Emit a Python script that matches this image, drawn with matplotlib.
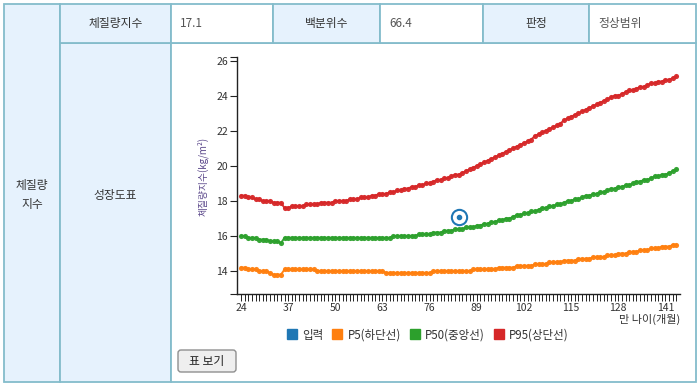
import matplotlib
matplotlib.use('Agg')
import matplotlib.pyplot as plt
from matplotlib.patches import Rectangle, FancyBboxPatch
from matplotlib.lines import Line2D

plt.rcParams['font.family'] = ['Noto Sans CJK KR', 'DejaVu Sans']

# ---- data ----
months = list(range(24, 145))
x_tick_labels = [24, 37, 50, 63, 76, 89, 102, 115, 128, 141]
y_ticks = [14, 16, 18, 20, 22, 24, 26]

p5 = [14.2, 14.2, 14.1, 14.1, 14.1, 14.0, 14.0, 14.0, 13.9, 13.8,
      13.8, 13.8, 14.1, 14.1, 14.1, 14.1, 14.1, 14.1, 14.1, 14.1,
      14.1, 14.0, 14.0, 14.0, 14.0, 14.0, 14.0, 14.0, 14.0, 14.0,
      14.0, 14.0, 14.0, 14.0, 14.0, 14.0, 14.0, 14.0, 14.0, 14.0,
      13.9, 13.9, 13.9, 13.9, 13.9, 13.9, 13.9, 13.9, 13.9, 13.9,
      13.9, 13.9, 13.9, 14.0, 14.0, 14.0, 14.0, 14.0, 14.0, 14.0,
      14.0, 14.0, 14.0, 14.0, 14.1, 14.1, 14.1, 14.1, 14.1, 14.1,
      14.1, 14.2, 14.2, 14.2, 14.2, 14.2, 14.3, 14.3, 14.3, 14.3,
      14.3, 14.4, 14.4, 14.4, 14.4, 14.5, 14.5, 14.5, 14.5, 14.6,
      14.6, 14.6, 14.6, 14.7, 14.7, 14.7, 14.7, 14.8, 14.8, 14.8,
      14.8, 14.9, 14.9, 14.9, 15.0, 15.0, 15.0, 15.1, 15.1, 15.1,
      15.2, 15.2, 15.2, 15.3, 15.3, 15.3, 15.4, 15.4, 15.4, 15.5,
      15.5]

p50 = [16.0, 16.0, 15.9, 15.9, 15.9, 15.8, 15.8, 15.8, 15.7, 15.7,
       15.7, 15.6, 15.9, 15.9, 15.9, 15.9, 15.9, 15.9, 15.9, 15.9,
       15.9, 15.9, 15.9, 15.9, 15.9, 15.9, 15.9, 15.9, 15.9, 15.9,
       15.9, 15.9, 15.9, 15.9, 15.9, 15.9, 15.9, 15.9, 15.9, 15.9,
       15.9, 15.9, 16.0, 16.0, 16.0, 16.0, 16.0, 16.0, 16.0, 16.1,
       16.1, 16.1, 16.1, 16.2, 16.2, 16.2, 16.3, 16.3, 16.3, 16.4,
       16.4, 16.4, 16.5, 16.5, 16.5, 16.6, 16.6, 16.7, 16.7, 16.8,
       16.8, 16.9, 16.9, 17.0, 17.0, 17.1, 17.2, 17.2, 17.3, 17.3,
       17.4, 17.4, 17.5, 17.6, 17.6, 17.7, 17.7, 17.8, 17.8, 17.9,
       18.0, 18.0, 18.1, 18.1, 18.2, 18.3, 18.3, 18.4, 18.4, 18.5,
       18.5, 18.6, 18.7, 18.7, 18.8, 18.8, 18.9, 18.9, 19.0, 19.1,
       19.1, 19.2, 19.2, 19.3, 19.4, 19.4, 19.5, 19.5, 19.6, 19.7,
       19.8]

p95 = [18.3, 18.3, 18.2, 18.2, 18.1, 18.1, 18.0, 18.0, 18.0, 17.9,
       17.9, 17.9, 17.6, 17.6, 17.7, 17.7, 17.7, 17.7, 17.8, 17.8,
       17.8, 17.8, 17.9, 17.9, 17.9, 17.9, 18.0, 18.0, 18.0, 18.0,
       18.1, 18.1, 18.1, 18.2, 18.2, 18.2, 18.3, 18.3, 18.4, 18.4,
       18.4, 18.5, 18.5, 18.6, 18.6, 18.7, 18.7, 18.8, 18.8, 18.9,
       18.9, 19.0, 19.0, 19.1, 19.2, 19.2, 19.3, 19.3, 19.4, 19.5,
       19.5, 19.6, 19.7, 19.8, 19.9, 20.0, 20.1, 20.2, 20.3, 20.4,
       20.5, 20.6, 20.7, 20.8, 20.9, 21.0, 21.1, 21.2, 21.3, 21.4,
       21.5, 21.7, 21.8, 21.9, 22.0, 22.1, 22.2, 22.3, 22.4, 22.6,
       22.7, 22.8, 22.9, 23.0, 23.1, 23.2, 23.3, 23.4, 23.5, 23.6,
       23.7, 23.8, 23.9, 24.0, 24.0, 24.1, 24.2, 24.3, 24.3, 24.4,
       24.5, 24.5, 24.6, 24.7, 24.7, 24.8, 24.8, 24.9, 24.9, 25.0,
       25.1]

input_month = [84]
input_bmi = [17.1]

series_names = ['입력', 'P5(하단선)', 'P50(중앙선)', 'P95(상단선)']
series_colors = ['#1f77b4', '#ff7f0e', '#2ca02c', '#d62728']

header_cells = ['체질량지수', '17.1', '백분위수', '66.4', '판정', '정상범위']

# ---- figure and table background ----
fig = plt.figure(figsize=(7, 3.87), dpi=100)
bg = fig.add_axes([0, 0, 1, 1])
bg.set_xlim(0, 700)
bg.set_ylim(387, 0)
bg.axis('off')

border = '#84bccb'
blue = '#e6f2fd'
head_c = '#333333'
val_c = '#555555'

def cell(x0, y0, x1, y1, fc):
    bg.add_patch(Rectangle((x0, y0), x1 - x0, y1 - y0, facecolor=fc,
                           edgecolor=border, lw=1.3))

# left column + row label column
cell(4, 4, 60, 382, blue)
cell(60, 43, 171, 382, blue)
cell(171, 43, 696, 382, 'white')
bg.text(32, 195, '체질량\n지수', ha='center', va='center', fontsize=8.5,
        color=head_c, linespacing=1.6)
bg.text(115, 195, '성장도표', ha='center', va='center', fontsize=8.5,
        color=head_c)

# header row
col_edges = [60, 171, 273, 380, 483, 589, 696]
for i, txt in enumerate(header_cells):
    x0, x1 = col_edges[i], col_edges[i + 1]
    if i % 2 == 0:
        cell(x0, 4, x1, 43, blue)
        bg.text((x0 + x1) / 2, 23.5, txt, ha='center', va='center',
                fontsize=8.5, color=head_c)
    else:
        cell(x0, 4, x1, 43, 'white')
        bg.text(x0 + 9, 23.5, txt, ha='left', va='center',
                fontsize=8.5, color=val_c)

# button
bg.add_patch(FancyBboxPatch((178, 350), 58, 22,
                            boxstyle='round,pad=0,rounding_size=3',
                            facecolor='#efefef', edgecolor='#8f8f8f', lw=1))
bg.text(207, 361, '표 보기', ha='center', va='center', fontsize=8.5,
        color='#222222')

# axis titles
bg.text(203, 176, '체질량지수(kg/m²)', rotation=90, ha='center',
        va='center', fontsize=7, color='#5d4a8c')
bg.text(680, 319, '만 나이(개월)', ha='right', va='center', fontsize=8,
        color=head_c)

# ---- chart ----
ax = fig.add_axes([237 / 700, 1 - 294 / 387, (680 - 237) / 700,
                   (294 - 57) / 387])
ax.set_facecolor('none')

for vals, col in zip([p5, p50, p95], series_colors[1:]):
    ax.plot(months, vals, '-o', color=col, lw=1.4, ms=3.7, mew=0,
            alpha=0.95, zorder=3)

ax.plot(input_month, input_bmi, 'o', mfc='none', mec=series_colors[0],
        ms=11, mew=1.5, zorder=4)
ax.plot(input_month, input_bmi, 'o', color=series_colors[0], ms=3,
        zorder=4)

ax.set_xlim(22.9, 145)
ax.set_ylim(12.7, 26.2)
ax.set_xticks(months)
ax.set_xticklabels([str(m) if m in x_tick_labels else '' for m in months])
ax.set_yticks(y_ticks)
ax.set_yticks([12.7, 26.2], minor=True)

for s in ['top', 'right']:
    ax.spines[s].set_visible(False)
for s in ['left', 'bottom']:
    ax.spines[s].set_color('#222222')
    ax.spines[s].set_linewidth(1)

ax.tick_params(axis='x', length=5, width=0.7, color='#222222',
               labelsize=7.5, labelcolor=head_c, pad=1.5)
ax.tick_params(axis='y', which='both', length=5, width=0.8,
               color='#222222', labelsize=7.5, labelcolor=head_c, pad=1.5)

# legend
handles = [Line2D([], [], marker='s', ls='none', color=c, ms=7)
           for c in series_colors]
fig.legend(handles, series_names, loc='center',
           bbox_to_anchor=(428 / 700, 1 - 335 / 387), ncol=4,
           frameon=False, fontsize=8.3, handlelength=0.8,
           handletextpad=0.5, columnspacing=0.8, labelcolor=head_c)

fig.savefig('out.png', dpi=100)
